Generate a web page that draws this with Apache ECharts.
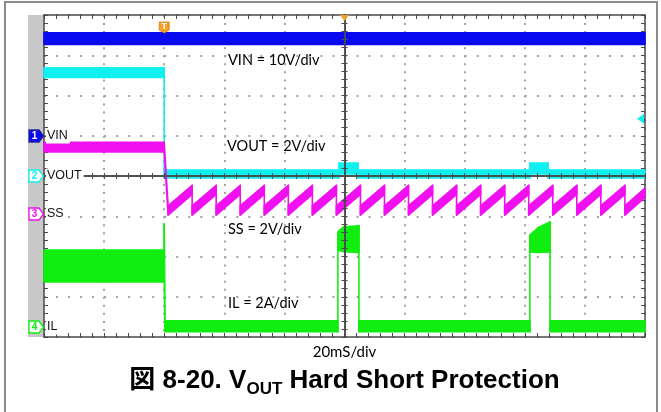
<!DOCTYPE html>
<html><head><meta charset="utf-8">
<script src="https://cdn.jsdelivr.net/npm/echarts@6/dist/echarts.min.js"></script>
<style>html,body{margin:0;padding:0;background:#fff}#c{width:661px;height:412px}</style>
</head><body><div id="c"></div>
<script>
// Time in ms (20 ms/div, 10 divisions); vertical values in screen divisions (0..8)
const timeRange = [0, 200];
const divRange = [0, 8];
// envelopes of each noisy trace: [time, low, high]
const vinBand = [[0,7.27,7.56],[200,7.27,7.56]];
const voutBand = [[0,6.45,6.69],[40,6.45,6.69],[40,3.95,4.15],[98.2,3.95,4.15],[98.2,4.05,4.32],[104.5,4.05,4.32],[104.5,3.95,4.15],
  [161.7,3.95,4.15],[161.7,4.05,4.32],[167.7,4.05,4.32],[167.7,3.95,4.15],[200,3.95,4.15]];
const ssBand = [[0,4.60,4.84],[40,4.60,4.84],[41.3,3.03,3.26],
  [49.3,3.54,3.77],[49.3,3.03,3.26],[57.3,3.54,3.77],[57.3,3.03,3.26],[65.3,3.54,3.77],[65.3,3.03,3.26],
  [73.3,3.54,3.77],[73.3,3.03,3.26],[81.3,3.54,3.77],[81.3,3.03,3.26],[89.3,3.54,3.77],[89.3,3.03,3.26],
  [97.3,3.54,3.77],[97.3,3.03,3.26],[105.3,3.54,3.77],[105.3,3.03,3.26],[113.3,3.54,3.77],[113.3,3.03,3.26],
  [121.3,3.54,3.77],[121.3,3.03,3.26],[129.3,3.54,3.77],[129.3,3.03,3.26],[137.3,3.54,3.77],[137.3,3.03,3.26],
  [145.3,3.54,3.77],[145.3,3.03,3.26],[153.3,3.54,3.77],[153.3,3.03,3.26],[161.3,3.54,3.77],[161.3,3.03,3.26],
  [169.3,3.54,3.77],[169.3,3.03,3.26],[177.3,3.54,3.77],[177.3,3.03,3.26],[185.3,3.54,3.77],[185.3,3.03,3.26],
  [193.3,3.54,3.77],[193.3,3.03,3.26],[200,3.47,3.70]];
const ilBand = [[0,1.37,2.16],[40,1.37,2.16],[40,1.37,2.81],[40.3,0.13,0.40],[97.8,0.13,0.40],[97.8,2.16,2.61],[99.8,2.12,2.74],
  [104.8,2.10,2.76],[104.8,0.13,0.40],[161.7,0.13,0.40],[161.7,2.11,2.53],[164.5,2.10,2.72],[168.4,2.11,2.86],[168.4,0.13,0.40],[200,0.13,0.40]];
const channels = ['VIN','VOUT','SS','IL'];
const channelNums = ['1','2','3','4'];
const channelLevels = [5.0, 4.0, 3.05, 0.25];
const scaleTexts = ['VIN = 10V/div','VOUT = 2V/div','SS = 2V/div','IL = 2A/div'];
const timebaseText = '20mS/div';
const triggerTime = 40;
const triggerLevel = 5.42;
const titleMain = '図 8-20. V', titleSub = 'OUT', titleRest = ' Hard Short Protection';

const colors = ['#0a0af0','#10f0f0','#f010f0','#10ee10'];
const chart = echarts.init(document.getElementById('c'));
const dark = '#4a4a4a', dot = '#a4a4a4';

function segs(b){const o=[];for(let i=0;i<b.length-1;i++)o.push([b[i][0],b[i][1],b[i][2],b[i+1][0],b[i+1][1],b[i+1][2]]);return o;}
function band(name,b,color){
  return {type:'custom',name,xAxisIndex:0,yAxisIndex:0,data:segs(b),z:2,silent:true,animation:false,
    encode:{x:[0,3],y:[1,2,4,5]},
    renderItem:(p,api)=>{
      const a=api.coord([api.value(0),api.value(2)]),bb=api.coord([api.value(3),api.value(5)]),
            c=api.coord([api.value(3),api.value(4)]),d=api.coord([api.value(0),api.value(1)]);
      return {type:'polygon',shape:{points:[a,bb,c,d]},style:{fill:color,stroke:color,lineWidth:1.6,lineJoin:'round'}};
    }};
}
function xa(o){return Object.assign({type:'value',min:timeRange[0],max:timeRange[1],interval:20,gridIndex:0,
  axisLabel:{show:false},splitLine:{show:false},axisLine:{show:true,onZero:false,lineStyle:{color:dark,width:1.5}},
  axisTick:{show:true,inside:true,length:4,lineStyle:{color:dark}},minorTick:{show:true,splitNumber:5,length:4,lineStyle:{color:dark}},z:1},o);}
function ya(o){return Object.assign({type:'value',min:divRange[0],max:divRange[1],interval:1,gridIndex:0,
  axisLabel:{show:false},splitLine:{show:false},axisLine:{show:true,onZero:false,lineStyle:{color:dark,width:1.5}},
  axisTick:{show:true,inside:true,length:4,lineStyle:{color:dark}},minorTick:{show:true,splitNumber:5,length:4,lineStyle:{color:dark}},z:1},o);}

const option = {
  animation:false,
  grid:{left:44,top:15,width:601,height:322,outerBoundsMode:'none',containLabel:false},
  xAxis:[
    xa({position:'bottom',splitLine:{show:true,lineStyle:{color:dot,width:2,type:[2,6.05]}}}),
    xa({position:'top'}),
    xa({position:'bottom',offset:-161,z:5,axisTick:{show:true,inside:true,length:3,lineStyle:{color:dark}},minorTick:{show:true,splitNumber:5,length:3,lineStyle:{color:dark}}}),
    xa({position:'bottom',offset:-161,z:5,axisTick:{show:true,inside:false,length:3,lineStyle:{color:dark}},minorTick:{show:true,splitNumber:5,length:3,lineStyle:{color:dark}}})
  ],
  yAxis:[
    ya({position:'left',splitLine:{show:true,lineStyle:{color:dot,width:2,type:[2,10.02]}}}),
    ya({position:'right'}),
    ya({position:'left',offset:-300.5,z:5,axisTick:{show:true,inside:true,length:3,lineStyle:{color:dark}},minorTick:{show:true,splitNumber:5,length:3,lineStyle:{color:dark}}}),
    ya({position:'left',offset:-300.5,z:5,axisTick:{show:true,inside:false,length:3,lineStyle:{color:dark}},minorTick:{show:true,splitNumber:5,length:3,lineStyle:{color:dark}}})
  ],
  series:[band('VIN',vinBand,colors[0]),band('VOUT',voutBand,colors[1]),band('SS',ssBand,colors[2]),band('IL',ilBand,colors[3])]
};
chart.setOption(option);

const px = v => chart.convertToPixel({gridIndex:0}, v);
const g = [];
g.push({type:'rect',shape:{x:5,y:2,width:652,height:430},style:{fill:null,stroke:'#8c8c8c',lineWidth:2},z:0});
const tl = px([0,divRange[1]]), br = px([timeRange[1],divRange[0]]);
g.push({type:'rect',shape:{x:28,y:tl[1],width:tl[0]-28,height:br[1]-tl[1]},style:{fill:'#c8c8c8'},z:1});
channels.forEach((name,i)=>{
  const y = Math.round(px([0,channelLevels[i]])[1]);
  const filled = i===0;
  g.push({type:'polygon',shape:{points:[[29,y-6],[39,y-6],[43.5,y],[39,y+6],[29,y+6]]},
    style:{fill:filled?colors[0]:'#fff',stroke:filled?'#2020a0':colors[i],lineWidth:1.3},z:20});
  g.push({type:'text',x:34.5,y:y,style:{text:channelNums[i],fill:filled?'#fff':colors[i],font:'bold 10px "Liberation Sans"',align:'center',verticalAlign:'middle'},z:21});
  g.push({type:'text',x:46,y:y,style:{text:name,fill:'#111',font:'12.5px "Liberation Sans"',align:'left',verticalAlign:'middle',backgroundColor:'#fff',padding:[1,2,1,1]},z:20});
});
const textPos = [[228,60],[227,146],[228,229],[228,303]];
scaleTexts.forEach((t,i)=>{
  g.push({type:'text',x:textPos[i][0],y:textPos[i][1],style:{text:t,fill:'#000',font:'14.5px Lato',align:'left',verticalAlign:'middle'},z:20});
});
g.push({type:'text',x:(tl[0]+br[0])/2,y:352,style:{text:timebaseText,fill:'#000',font:'15px Lato',align:'center',verticalAlign:'middle'},z:20});
// trigger markers
const tx = px([triggerTime,0])[0];
g.push({type:'polygon',shape:{points:[[tx-5,22],[tx+5,22],[tx+5,30],[tx,33],[tx-5,30]]},style:{fill:'#f2a22a',stroke:'#d08010',lineWidth:0.8},z:20});
g.push({type:'text',x:tx,y:26.5,style:{text:'T',fill:'#fff',font:'bold 9px "Liberation Sans"',align:'center',verticalAlign:'middle'},z:21});
const cx = (tl[0]+br[0])/2;
g.push({type:'polygon',shape:{points:[[cx-4.5,tl[1]],[cx+4.5,tl[1]],[cx,tl[1]+6]]},style:{fill:'#f2a22a'},z:20});
const ly = px([0,triggerLevel])[1];
g.push({type:'polygon',shape:{points:[[br[0]-8,ly],[br[0]-1,ly-5],[br[0]-1,ly+5]]},style:{fill:colors[1]},z:20});
// title
g.push({type:'text',x:cx,y:385,style:{
  text:'{a|'+titleMain+'}{s|'+titleSub+'}{a|'+titleRest+'}',align:'center',verticalAlign:'middle',
  rich:{a:{fontFamily:'"Liberation Sans","Noto Sans CJK JP",sans-serif',fontWeight:'bold',fontSize:26,lineHeight:26,verticalAlign:'bottom',padding:[0,0,4,0],fill:'#000'},
        s:{fontFamily:'"Liberation Sans",sans-serif',fontWeight:'bold',fontSize:17,lineHeight:17,verticalAlign:'bottom',fill:'#000'}}},z:20});
chart.setOption({graphic:g});
</script></body></html>
